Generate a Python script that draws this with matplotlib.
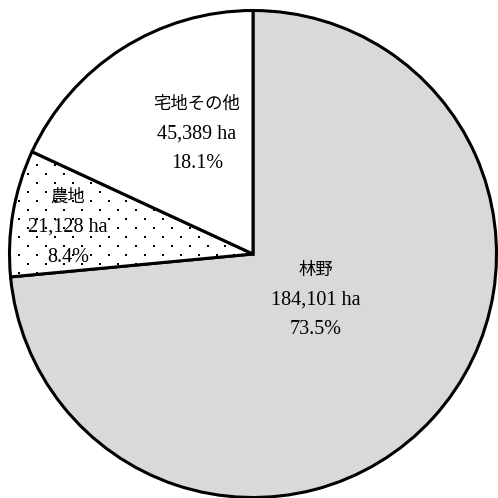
import matplotlib
matplotlib.use('Agg')
import matplotlib.pyplot as plt
import numpy as np

# land use shares
categories = ['林野', '農地', '宅地その他']
areas_ha = [184101, 21128, 45389]
percents = [73.5, 8.4, 18.1]

colors = ['#d9d9d9', 'white', 'white']

# pixel layout of the reference (498 x 498)
W = 498
cx, cy, R = 253.0, 254.0, 243.5

fig = plt.figure(figsize=(4.98, 4.98), dpi=100)
ax = fig.add_axes([0, 0, 1, 1])

wedges, _ = ax.pie(percents, startangle=90, counterclock=False, colors=colors,
                   radius=1.0, wedgeprops=dict(edgecolor='black', linewidth=2.2))

ax.set_xlim(-cx / R, (W - cx) / R)
ax.set_ylim(-(W - cy) / R, cy / R)
ax.set_aspect('auto')
ax.axis('off')

# dotted texture for 農地 (staggered grid, 9 px rows, 18 px columns)
step = 9.0 / R
gx, gy = [], []
for i, yy in enumerate(np.arange(-1.0, 1.0, step)):
    off = 0 if i % 2 == 0 else step
    for xx in np.arange(-1.0 + off, 1.0, 2 * step):
        gx.append(xx)
        gy.append(yy)
dots = ax.scatter(gx, gy, s=2.2, c='black', marker='s', linewidths=0, zorder=2)
dots.set_clip_path(wedges[1])

# labels: (x px, y px of middle line)
label_px = [(316, 300), (68, 227), (197, 134)]
gap = 30.0 / R
for name, a, p, (px, py) in zip(categories, areas_ha, percents, label_px):
    x = (px - cx) / R
    y = (cy - py) / R
    ax.text(x, y + gap, name, ha='center', va='center', fontsize=12.5,
            family=['Noto Sans CJK JP'], zorder=5)
    ax.text(x, y, '{:,} ha'.format(a), ha='center', va='center', fontsize=14.5,
            family=['Liberation Serif', 'Noto Sans CJK JP'], zorder=5)
    ax.text(x, y - gap, '{}%'.format(p), ha='center', va='center', fontsize=14.5,
            family=['Liberation Serif', 'Noto Sans CJK JP'], zorder=5)

fig.savefig('out.png', dpi=100)
